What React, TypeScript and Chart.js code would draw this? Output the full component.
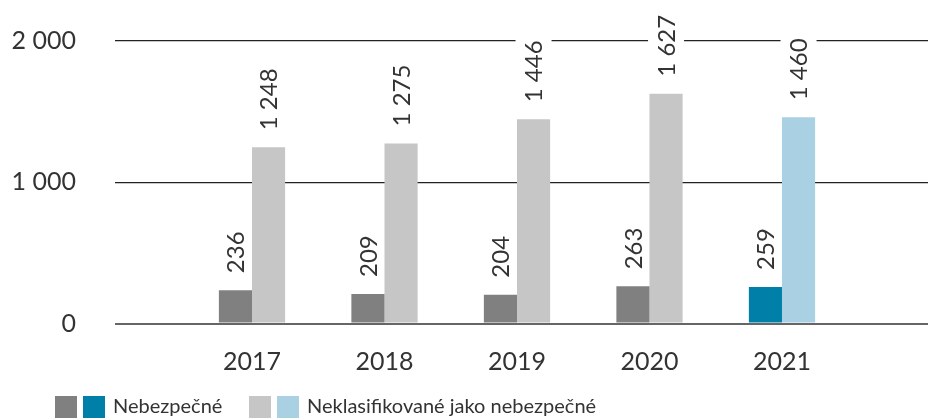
import React, { useEffect, useRef } from 'react';
import { Chart, registerables } from 'chart.js';

Chart.register(...registerables);

const categories = ['2017', '2018', '2019', '2020', '2021'];
const hazardous = [236, 209, 204, 263, 259];
const nonHazardous = [1248, 1275, 1446, 1627, 1460];
const yTickValues = [0, 1000, 2000];
const seriesNames = ['Nebezpečné', 'Neklasifikované jako nebezpečné'];
const hazardousColors = ['#808080', '#808080', '#808080', '#808080', '#0080a8'];
const nonHazardousColors = ['#c6c6c6', '#c6c6c6', '#c6c6c6', '#c6c6c6', '#a9d0e3'];

const FONT = 'Lato';
const TEXT = '#333333';

const fmt = (v: number) => String(v).replace(/\B(?=(\d{3})+(?!\d))/g, ' ');

const labelPlugin = {
  id: 'valueLabels',
  beforeDatasetsDraw(chart: any) {
    const ctx = chart.ctx;
    ctx.save();
    ctx.font = `24px ${FONT}`;
    chart.data.datasets.forEach((ds: any, di: number) => {
      const meta = chart.getDatasetMeta(di);
      meta.data.forEach((el: any, i: number) => {
        const t = fmt(ds.data[i].y);
        ctx.save();
        ctx.translate(el.x, el.y - 17);
        ctx.rotate(-Math.PI / 2);
        ctx.textAlign = 'left';
        ctx.textBaseline = 'middle';
        const w = ctx.measureText(t).width;
        ctx.fillStyle = '#ffffff';
        ctx.fillRect(-4, -18, w + 10, 36);
        ctx.fillStyle = TEXT;
        ctx.fillText(t, 0, 1);
        ctx.restore();
      });
    });
    ctx.restore();
  },
};

const legendPlugin = {
  id: 'customLegend',
  afterDraw(chart: any) {
    const ctx = chart.ctx;
    ctx.save();
    const groups = [
      { x: 55, colors: [hazardousColors[0], hazardousColors[4]], label: seriesNames[0] },
      { x: 249, colors: [nonHazardousColors[0], nonHazardousColors[4]], label: seriesNames[1] },
    ];
    ctx.font = `20px ${FONT}`;
    ctx.textBaseline = 'middle';
    ctx.textAlign = 'left';
    groups.forEach((g) => {
      g.colors.forEach((c, k) => {
        ctx.fillStyle = c;
        ctx.fillRect(g.x + k * 28, 396, 22, 22);
      });
      ctx.fillStyle = TEXT;
      ctx.fillText(g.label, g.x + 58, 407);
    });
    ctx.restore();
  },
};

export default function App() {
  const ref = useRef<HTMLCanvasElement | null>(null);
  useEffect(() => {
    document.body.style.margin = '0';
    const canvas = ref.current!;
    const chart = new Chart(canvas, {
      type: 'bar',
      data: {
        datasets: [
          {
            label: seriesNames[0],
            data: hazardous.map((v, i) => ({ x: i, y: v })),
            backgroundColor: hazardousColors,
            categoryPercentage: 0.5,
            barPercentage: 1,
          },
          {
            label: seriesNames[1],
            data: nonHazardous.map((v, i) => ({ x: i, y: v })),
            backgroundColor: nonHazardousColors,
            categoryPercentage: 0.5,
            barPercentage: 1,
          },
        ],
      },
      options: {
        animation: false,
        responsive: false,
        layout: { padding: { top: 41, right: 5, bottom: 0, left: 0 } },
        plugins: { legend: { display: false }, tooltip: { enabled: false } },
        scales: {
          x: {
            type: 'linear',
            offset: false,
            min: -1.034,
            max: 5.102,
            grid: { display: false },
            border: { display: false },
            afterBuildTicks: (scale: any) => {
              scale.ticks = categories.map((_, i) => ({ value: i }));
            },
            afterFit: (scale: any) => {
              scale.height = 94.5;
            },
            ticks: {
              autoSkip: false,
              maxRotation: 0,
              padding: 15,
              color: TEXT,
              font: { family: FONT, size: 25 },
              callback: (v: any) => categories[v as number] ?? '',
            },
          },
          y: {
            min: 0,
            max: 2000,
            afterBuildTicks: (scale: any) => {
              scale.ticks = yTickValues.map((v) => ({ value: v }));
            },
            afterFit: (scale: any) => {
              scale.width = 115;
              scale.paddingTop = 0;
              scale.paddingBottom = 0;
            },
            border: { display: false },
            grid: {
              drawTicks: false,
              color: (c: any) => (c.tick && c.tick.value === 0 ? '#666666' : '#222222'),
              lineWidth: (c: any) => (c.tick && c.tick.value === 0 ? 2 : 1.2),
            },
            ticks: {
              padding: 39,
              color: TEXT,
              font: { family: FONT, size: 25 },
              callback: (v: any) => fmt(v as number),
            },
          },
        },
      },
      plugins: [labelPlugin, legendPlugin],
    } as any);
    return () => chart.destroy();
  }, []);
  return <canvas ref={ref} width={933} height={418} style={{ display: 'block' }} />;
}
